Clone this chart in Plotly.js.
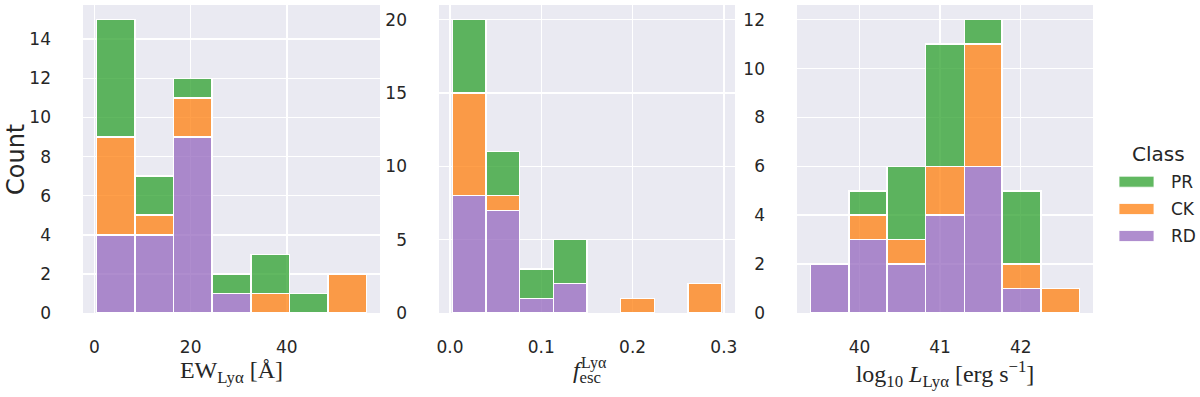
<!DOCTYPE html>
<html>
<head>
<meta charset="utf-8">
<script src="https://cdn.plot.ly/plotly-3.0.1.min.js"></script>
<style>
  html, body { margin: 0; padding: 0; background: #fff; }
  #chart { width: 1200px; height: 397px; }
</style>
</head>
<body>
<div id="chart"></div>
<script>
// ---- data (bin edges + stacked counts per class) ----
const classes = ['RD', 'CK', 'PR'];           // bottom -> top of the stack
const legendOrder = ['PR', 'CK', 'RD'];
const classColors = {
  PR: 'rgba(44,160,44,0.75)',
  CK: 'rgba(255,127,14,0.75)',
  RD: 'rgba(148,103,189,0.75)'
};

const ewEdges = [0.4, 8.43, 16.46, 24.49, 32.52, 40.55, 48.58, 56.61];
const ewRD = [4, 4, 9, 1, 0, 0, 0];
const ewCK = [5, 1, 2, 0, 1, 0, 2];
const ewPR = [6, 2, 1, 1, 2, 1, 0];

const fescEdges = [0.0026, 0.0395, 0.0763, 0.1132, 0.15, 0.1869, 0.2238, 0.2606, 0.2975];
const fescRD = [8, 7, 1, 2, 0, 0, 0, 0];
const fescCK = [7, 1, 0, 0, 0, 1, 0, 2];
const fescPR = [5, 3, 2, 3, 0, 0, 0, 0];

const lumEdges = [39.39, 39.87, 40.34, 40.82, 41.30, 41.77, 42.25, 42.73];
const lumRD = [2, 3, 2, 4, 6, 1, 0];
const lumCK = [0, 1, 1, 2, 5, 1, 1];
const lumPR = [0, 1, 3, 5, 1, 3, 0];

const panels = [
  { edges: ewEdges, counts: { RD: ewRD, CK: ewCK, PR: ewPR } },
  { edges: fescEdges, counts: { RD: fescRD, CK: fescCK, PR: fescPR } },
  { edges: lumEdges, counts: { RD: lumRD, CK: lumCK, PR: lumPR } }
];

// ---- build stacked bar traces ----
const traces = [];
panels.forEach((p, i) => {
  const centers = p.edges.slice(0, -1).map((e, k) => (e + p.edges[k + 1]) / 2);
  const widths = p.edges.slice(0, -1).map((e, k) => p.edges[k + 1] - e);
  const sfx = i === 0 ? '' : String(i + 1);
  classes.forEach(c => {
    traces.push({
      type: 'bar',
      x: centers,
      y: p.counts[c].map(v => (v === 0 ? null : v)),
      width: widths,
      name: c,
      showlegend: false,
      xaxis: 'x' + sfx,
      yaxis: 'y' + sfx,
      marker: { color: classColors[c], line: { color: '#ffffff', width: 1.5 } },
      hoverinfo: 'x+y+name'
    });
  });
});

// ---- layout ----
const W = 1200, H = 397;
const px = v => v / W;          // pixel -> paper x
const py = v => 1 - v / H;      // pixel -> paper y

const ink = '#262626';
const tickFont = { family: 'DejaVu Sans', size: 17, color: ink };
const titleFont = { family: 'Liberation Serif', size: 24, color: ink };

function xAxis(domain, range, tickvals, ticktext, title) {
  return {
    domain: domain, range: range, tickvals: tickvals, ticktext: ticktext,
    showgrid: true, gridcolor: '#ffffff', gridwidth: 1.5,
    zeroline: false, showline: false, ticks: '',
    tickfont: tickFont, ticklabelstandoff: 22,
    title: { text: title, font: titleFont, standoff: 5 }
  };
}
function yAxis(anchor, range, dtick) {
  return {
    domain: [py(313), py(5)], range: range, dtick: dtick, anchor: anchor,
    showgrid: true, gridcolor: '#ffffff', gridwidth: 1.5,
    zeroline: false, showline: false, ticks: '',
    tickfont: tickFont, ticklabelstandoff: 31
  };
}

// hand-drawn legend (wide patches like matplotlib)
const legendRows = [181.7, 209, 236];
const shapes = legendOrder.map((c, k) => ({
  type: 'rect', xref: 'paper', yref: 'paper',
  x0: px(1119), x1: px(1154), y0: py(legendRows[k] + 5.5), y1: py(legendRows[k] - 5.5),
  fillcolor: classColors[c], line: { color: 'rgba(255,255,255,0.8)', width: 1 }
}));
const annotations = [
  {
    xref: 'paper', yref: 'paper', x: px(16), y: py(160), xanchor: 'center', yanchor: 'middle',
    text: 'Count', textangle: -90, showarrow: false,
    font: { family: 'DejaVu Sans', size: 24, color: ink }
  },
  {
    // superscript of f_esc^Lyα, stacked above the "esc" subscript
    xref: 'paper', yref: 'paper', x: px(594), y: py(363), xanchor: 'center', yanchor: 'middle',
    text: 'Lyα', showarrow: false,
    font: { family: 'Liberation Serif', size: 16, color: ink }
  },
  {
    xref: 'paper', yref: 'paper', x: px(1158), y: py(154), xanchor: 'center', yanchor: 'middle',
    text: 'Class', showarrow: false, font: { family: 'DejaVu Sans', size: 20, color: ink }
  }
].concat(legendOrder.map((c, k) => ({
  xref: 'paper', yref: 'paper', x: px(1169), y: py(legendRows[k]), xanchor: 'left', yanchor: 'middle',
  text: c, showarrow: false, font: { family: 'DejaVu Sans', size: 17, color: ink }
})));

const layout = {
  width: W, height: H,
  margin: { l: 0, r: 0, t: 0, b: 0 },
  paper_bgcolor: '#ffffff',
  plot_bgcolor: '#EAEAF2',
  barmode: 'stack',
  bargap: 0,
  showlegend: false,
  font: { family: 'DejaVu Sans', color: ink },
  xaxis: xAxis([px(83), px(380)], [-2.4, 59.4], [0, 20, 40], ['0', '20', '40'],
    'EW<sub>Lyα</sub> [Å]'),
  xaxis2: xAxis([px(439), px(735)], [-0.0121, 0.3122], [0, 0.1, 0.2, 0.3], ['0.0', '0.1', '0.2', '0.3'],
    '<i>f</i><sub>esc</sub>'),
  xaxis3: xAxis([px(797), px(1093)], [39.225, 42.897], [40, 41, 42], ['40', '41', '42'],
    'log<sub>10</sub> <i>L</i><sub>Lyα</sub> [erg s<sup>−1</sup>]'),
  yaxis: yAxis('x', [0, 15.75], 2),
  yaxis2: yAxis('x2', [0, 21], 5),
  yaxis3: yAxis('x3', [0, 12.6], 2),
  shapes: shapes,
  annotations: annotations
};

Plotly.newPlot('chart', traces, layout, { displayModeBar: false, staticPlot: true });
</script>
</body>
</html>
